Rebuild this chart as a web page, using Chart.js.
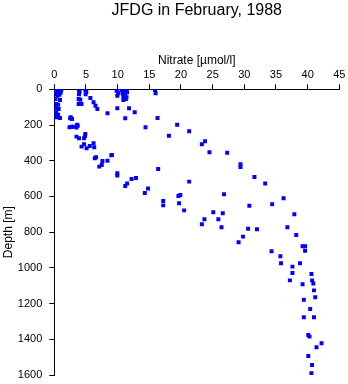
<!DOCTYPE html>
<html><head><meta charset="utf-8">
<script src="https://cdn.jsdelivr.net/npm/chart.js@4/dist/chart.umd.min.js"></script>
<style>html,body{margin:0;padding:0;background:#fff}</style>
</head><body>
<canvas id="c" width="348" height="384" style="display:block;width:348px;height:384px"></canvas>
<script>
// Nitrate [µmol/l] and depth [m] of each sample
const nitrate = [
  0.2,0.5,0.9,0.3,0.7,1.1,0.2,0.6,1.0,0.3,0.8,0.5,
  0.2,0.9,0.3,0.6,0.2,0.7,0.3,0.2,0.6,0.3,0.9,
  3.9,4.0,3.9,4.9,5.05,4.95,3.85,4.1,3.85,4.3,
  5.7,6.2,6.5,6.8,8.4,
  2.6,2.8,2.5,
  2.4,2.7,3.1,3.5,3.7,3.6,
  3.5,3.9,4.7,4.9,4.85,
  4.3,4.7,5.1,5.6,6.2,6.3,
  6.4,6.6,7.6,8.4,9.1,7.5,7.1,9.95,9.95,11.5,11.2,12.2,12.9,14.8,14.3,16.4,17.2,17.2,19.6,19.9,19.7,20.5,
  9.85,10.1,9.95,10.6,11.0,11.4,10.8,11.2,10.9,11.4,11.3,10.9,11.5,15.9,16.0,
  9.95,11.8,12.7,11.2,16.3,14.4,19.4,18.1,21.3,9.0,
  23.8,23.3,24.5,27.3,29.4,29.4,31.6,33.3,21.3,
  26.8,30.8,34.4,36.2,25.1,26.6,37.9,23.7,25.9,23.3,26.4,30.6,32.0,36.8,
  38.2,29.8,29.1,39.2,39.6,39.6,34.3,35.7,35.8,38.8,37.6,37.6,40.6,37.2,39.2,40.7,40.9,
  41.0,41.2,39.4,40.4,39.4,41.0,40.1,40.3,42.2,41.4,40.1,40.7,40.6
];
const depth = [
  0,0,0,8,8,5,18,15,20,28,30,36,
  54,60,82,86,105,110,129,138,142,157,161,
  4,15,28,4,15,28,54,58,82,82,
  49,73,92,110,134,
  157,166,162,
  213,210,210,214,204,198,
  265,274,274,250,261,
  321,308,330,318,302,325,
  386,381,401,400,368,424,433,470,483,527,541,502,497,555,581,446,625,650,598,592,638,678,
  8,22,36,4,8,4,22,26,41,45,54,60,17,4,22,
  106,106,129,162,161,213,198,260,235,370,
  291,308,353,355,420,435,491,527,517,
  588,652,644,610,689,694,700,728,728,756,773,781,784,773,
  816,825,857,879,879,904,907,935,974,974,993,1029,1034,1070,1092,1070,1087,
  1126,1165,1178,1230,1277,1277,1376,1385,1422,1445,1494,1544,1590
];
const xTickValues = [0,5,10,15,20,25,30,35,40,45];
const yTickValues = [0,200,400,600,800,1000,1200,1400,1600];
const chartTitle = 'JFDG in February, 1988';
const xTitle = 'Nitrate [\u00b5mol/l]';
const yTitle = 'Depth [m]';

const points = nitrate.map((n, i) => ({x: n, y: depth[i]}));
const FONT = "'Liberation Sans', Arial, Helvetica, sans-serif";

new Chart(document.getElementById('c'), {
  type: 'scatter',
  data: {datasets: [{
    data: points,
    backgroundColor: '#0000ff',
    borderColor: '#0000ff',
    borderWidth: 0,
    pointStyle: 'rect',
    pointRadius: 2.8,
    pointHoverRadius: 2.8
  }]},
  options: {
    responsive: false,
    animation: false,
    devicePixelRatio: 1,
    events: [],
    layout: {padding: {left: 0, right: 8.7, top: 0, bottom: 9}},
    plugins: {
      legend: {display: false},
      tooltip: {enabled: false},
      title: {
        display: true,
        text: chartTitle,
        fullSize: false,
        color: '#000',
        font: {family: FONT, size: 16, weight: 'normal', lineHeight: 1.0},
        padding: {top: 3, bottom: 0}
      }
    },
    scales: {
      x: {
        type: 'linear',
        position: 'top',
        min: 0, max: 45,
        afterBuildTicks: s => { s.ticks = xTickValues.map(v => ({value: v})); },
        afterFit: s => { s.height = 70.3; s.paddingLeft = 0; s.paddingRight = 0; },
        grid: {display: true, drawOnChartArea: false, drawTicks: true, tickLength: 5, color: '#000', lineWidth: 1},
        border: {display: true, color: '#000', width: 1},
        ticks: {color: '#000', padding: 3, maxRotation: 0, font: {family: FONT, size: 11}, callback: v => String(v)},
        title: {display: true, text: xTitle, color: '#000', padding: {top: 34.8, bottom: 0}, font: {family: FONT, size: 12}}
      },
      y: {
        type: 'linear',
        position: 'left',
        reverse: true,
        min: 0, max: 1600,
        afterBuildTicks: s => { s.ticks = yTickValues.map(v => ({value: v})); },
        afterFit: s => { s.width = 54.3; s.paddingTop = 0; s.paddingBottom = 0; },
        grid: {display: true, drawOnChartArea: false, drawTicks: true, tickLength: 5, color: '#000', lineWidth: 1},
        border: {display: true, color: '#000', width: 1},
        ticks: {color: '#000', padding: 7, font: {family: FONT, size: 11}, callback: v => String(v)},
        title: {display: true, text: yTitle, color: '#000', padding: {top: 1, bottom: 0}, font: {family: FONT, size: 12}}
      }
    }
  }
});
</script>
</body></html>
